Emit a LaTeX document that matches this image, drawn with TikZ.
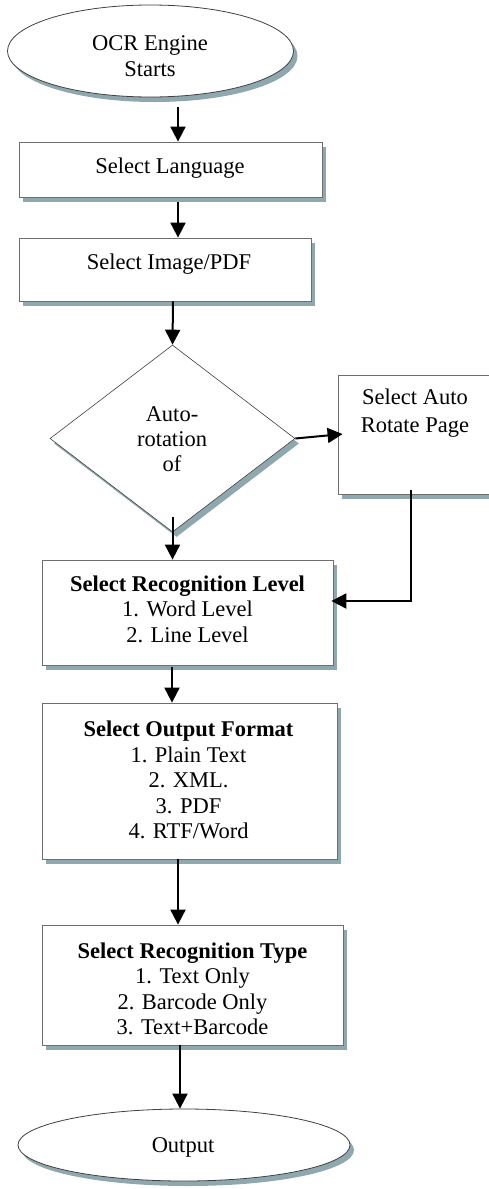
\documentclass[tikz,border=0pt]{standalone}
\usepackage{fontspec}
\setmainfont{Liberation Serif}
\usetikzlibrary{shapes.geometric,shadows,arrows.meta}

\definecolor{shadowc}{RGB}{143,168,176}
\definecolor{edgec}{RGB}{110,110,110}

\tikzset{
  base/.style={draw=edgec, line width=0.8pt, fill=white, inner sep=0pt,
    drop shadow={shadow xshift=4pt, shadow yshift=-5pt, fill=shadowc, opacity=1}},
  boxnode/.style={base, rectangle},
  ovalnode/.style={base, ellipse, draw=black!75},
  decide/.style={base, diamond, draw=black!75, line width=0.6pt},
  txt/.style={inner sep=0pt, align=center, font=\fontsize{22.5}{25.5}\selectfont},
  arr/.style={line width=2pt, -{Triangle[width=15pt,length=15pt]}},
}

\begin{document}
\begin{tikzpicture}[x=1pt, y=-1pt]
\useasboundingbox (0,0) rectangle (489,1189);

% shapes
\node[ovalnode, minimum width=286pt, minimum height=92pt] (start) at (150.5,51) {};
\node[boxnode, minimum width=303pt, minimum height=55pt] (lang) at (170.5,169.5) {};
\node[boxnode, minimum width=292pt, minimum height=63pt] (img) at (165,269.5) {};
\node[decide, minimum width=245pt, minimum height=187pt] (dia) at (172.5,438.5) {};
\node[boxnode, minimum width=170pt, minimum height=119pt] (side) at (423,434.5) {};
\node[boxnode, minimum width=291pt, minimum height=105pt] (rlev) at (187.5,612.5) {};
\node[boxnode, minimum width=295pt, minimum height=156pt] (ofmt) at (189.5,781) {};
\node[boxnode, minimum width=301pt, minimum height=120pt] (rtype) at (192.5,985) {};
\node[ovalnode, minimum width=332pt, minimum height=72pt] (out) at (184,1145) {};

% labels
\node[txt] (startT) at (150,56) {OCR Engine\\Starts};
\node[txt] (langT) at (170,168) {Select Language};
\node[txt] (imgT) at (169,264) {Select Image/PDF};
\node[txt, font=\fontsize{22.5}{25}\selectfont] (diaT) at (172,439) {Auto-\\rotation\\of};
\node[txt, font=\fontsize{22.5}{27.5}\selectfont] (sideT) at (415,413) {Select Auto\\Rotate Page};
\node[txt] (rlevT) at (187.5,609) {\textbf{Select Recognition Level}\\1. Word Level\\2. Line Level};
\node[txt] (ofmtT) at (188.5,780) {\textbf{Select Output Format}\\1. Plain Text\\2. XML.\\3. PDF\\4. RTF/Word};
\node[txt] (rtypeT) at (192.5,989) {\textbf{Select Recognition Type}\\1. Text Only\\2. Barcode Only\\3. Text+Barcode};
\node[txt] (outT) at (183,1147) {Output};

% connector columns
\coordinate (ax1) at (178,0);
\coordinate (ax2) at (173,0);
\coordinate (ax3) at (172,0);
\coordinate (ax4) at (180,0);
\coordinate (elbow) at (411,601);

% connectors
\draw[arr, shorten <=10pt] (start.south -| ax1) -- (lang.north -| ax1);
\draw[arr, shorten <=5pt] (lang.south -| ax1) -- (img.north -| ax1);
\draw[arr] (img.south -| ax2) -- (dia.north);
\draw[arr, shorten >=-5pt] (dia.east) -- (side.west);
\draw[arr, shorten <=-15pt] (dia.south) -- (rlev.north -| dia.south);
\draw[arr, shorten <=-4pt, shorten >=-2pt] (side.south -| elbow) -- (elbow) -- (rlev.east |- elbow);
\draw[arr, shorten <=2pt] (rlev.south -| ax3) -- (ofmt.north -| ax3);
\draw[arr] (ofmt.south -| ax1) -- (rtype.north -| ax1);
\draw[arr] (rtype.south -| ax4) -- (out.north -| ax4);
\end{tikzpicture}
\end{document}
